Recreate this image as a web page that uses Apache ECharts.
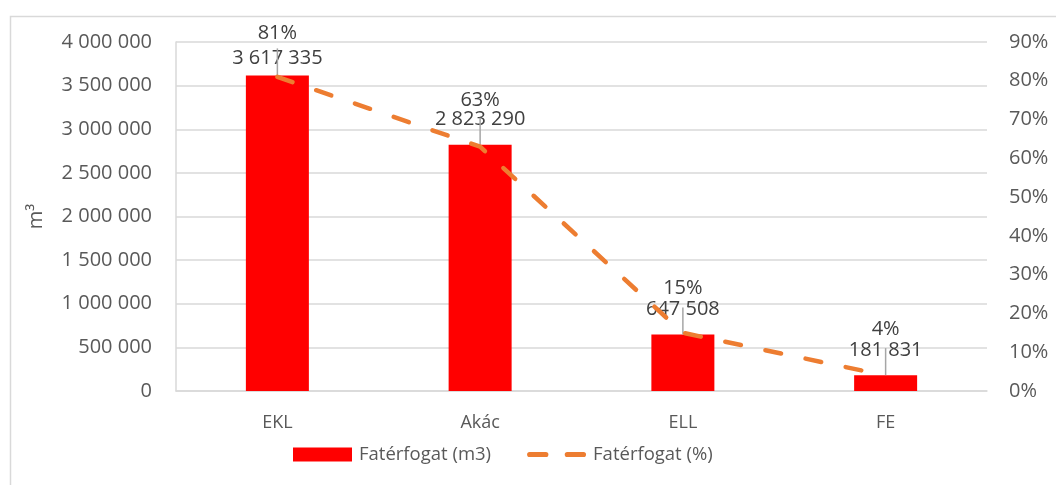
<!DOCTYPE html>
<html>
<head>
<meta charset="utf-8">
<script src="https://cdn.jsdelivr.net/npm/echarts@6/dist/echarts.min.js"></script>
<style>
html,body{margin:0;padding:0;background:#fff;}
#chart{width:1056px;height:485px;}
</style>
</head>
<body>
<div id="chart"></div>
<script>
var categories = ['EKL', 'Akác', 'ELL', 'FE'];
var volumeM3 = [3617335, 2823290, 647508, 181831];
var volumePct = [81, 63, 15, 4];
var leftTicks = { min: 0, max: 4000000, interval: 500000 };
var rightTicks = { min: 0, max: 90, interval: 10 };

// label placement (style only)
var barLabelDist = [7, 15, 15, 15];
var pctLabelDist = [34, 36, 34, 36];

function fmtSpace(v) {
  return String(Math.round(v)).replace(/\B(?=(\d{3})+(?!\d))/g, ' ');
}

var FONT = '"Open Sans", "Noto Sans", sans-serif';
var chart = echarts.init(document.getElementById('chart'));
chart.setOption({
  animation: false,
  backgroundColor: '#ffffff',
  textStyle: { fontFamily: FONT },
  graphic: [{
    type: 'rect', left: 8, top: 14, z: -10,
    shape: { width: 1200, height: 600 },
    style: { fill: 'none', stroke: '#d9d9d9', lineWidth: 1.5 }
  }],
  grid: { left: 176, right: 69, top: 42, bottom: 94 },
  legend: {
    left: 288, top: 440,
    itemWidth: 59, itemHeight: 14, itemGap: 36,
    textStyle: { color: '#595959', fontSize: 18.5, fontFamily: FONT, padding: [0, 0, 0, 2] },
    data: [
      { name: 'Fatérfogat (m3)', icon: 'rect' },
      { name: 'Fatérfogat (%)', icon: 'path://M2.5,0 h16 a2.5,2.5 0 0 1 0,5 h-16 a2.5,2.5 0 0 1 0,-5z M39.5,0 h16 a2.5,2.5 0 0 1 0,5 h-16 a2.5,2.5 0 0 1 0,-5z' }
    ]
  },
  xAxis: {
    type: 'category',
    data: categories,
    axisTick: { show: false },
    axisLine: { lineStyle: { color: '#d9d9d9', width: 1.5 } },
    axisLabel: { color: '#595959', fontSize: 18, margin: 23, fontFamily: FONT }
  },
  yAxis: [{
    type: 'value',
    min: leftTicks.min, max: leftTicks.max, interval: leftTicks.interval,
    name: 'm³', nameLocation: 'middle', nameGap: 130, nameRotate: 90,
    nameTextStyle: { color: '#595959', fontSize: 20, fontFamily: FONT },
    axisLine: { show: true, lineStyle: { color: '#d9d9d9', width: 1.5 } },
    axisTick: { show: false },
    splitLine: { lineStyle: { color: '#d9d9d9', width: 1.5 } },
    axisLabel: { color: '#595959', fontSize: 20, margin: 24, fontFamily: FONT, formatter: fmtSpace }
  }, {
    type: 'value',
    min: rightTicks.min, max: rightTicks.max, interval: rightTicks.interval,
    axisLine: { show: false },
    axisTick: { show: false },
    splitLine: { show: false },
    axisLabel: { color: '#595959', fontSize: 20, margin: 22, fontFamily: FONT, formatter: '{value}%' }
  }],
  series: [{
    name: 'Fatérfogat (m3)',
    type: 'bar',
    data: volumeM3.map(function (v, i) { return { value: v, label: { distance: barLabelDist[i] } }; }),
    barWidth: 63,
    itemStyle: { color: '#ff0000' },
    label: {
      show: true, position: 'top', distance: 15,
      color: '#404040', fontSize: 20, fontFamily: FONT,
      formatter: function (p) { return fmtSpace(p.value); }
    },
    z: 2
  }, {
    name: 'Leader',
    type: 'custom',
    data: volumeM3.map(function (v, i) { return [i, v]; }),
    renderItem: function (params, api) {
      var pt = api.coord([api.value(0), api.value(1)]);
      return {
        type: 'line',
        shape: { x1: pt[0], y1: pt[1], x2: pt[0], y2: pt[1] - 27 },
        style: { stroke: '#a6a6a6', lineWidth: 1.5 }
      };
    },
    silent: true,
    z: 3
  }, {
    name: 'Fatérfogat (%)',
    type: 'line',
    yAxisIndex: 1,
    data: volumePct.map(function (v, i) { return { value: v, label: { distance: pctLabelDist[i] } }; }),
    symbol: 'circle',
    symbolSize: 0.1,
    showSymbol: true,
    itemStyle: { color: '#ED7D31' },
    lineStyle: { color: '#ED7D31', width: 4.5, type: [16, 25], cap: 'round' },
    label: {
      show: true, position: 'top', distance: 36,
      color: '#404040', fontSize: 20, fontFamily: FONT,
      formatter: '{c}%'
    },
    z: 4
  }]
});
</script>
</body>
</html>
